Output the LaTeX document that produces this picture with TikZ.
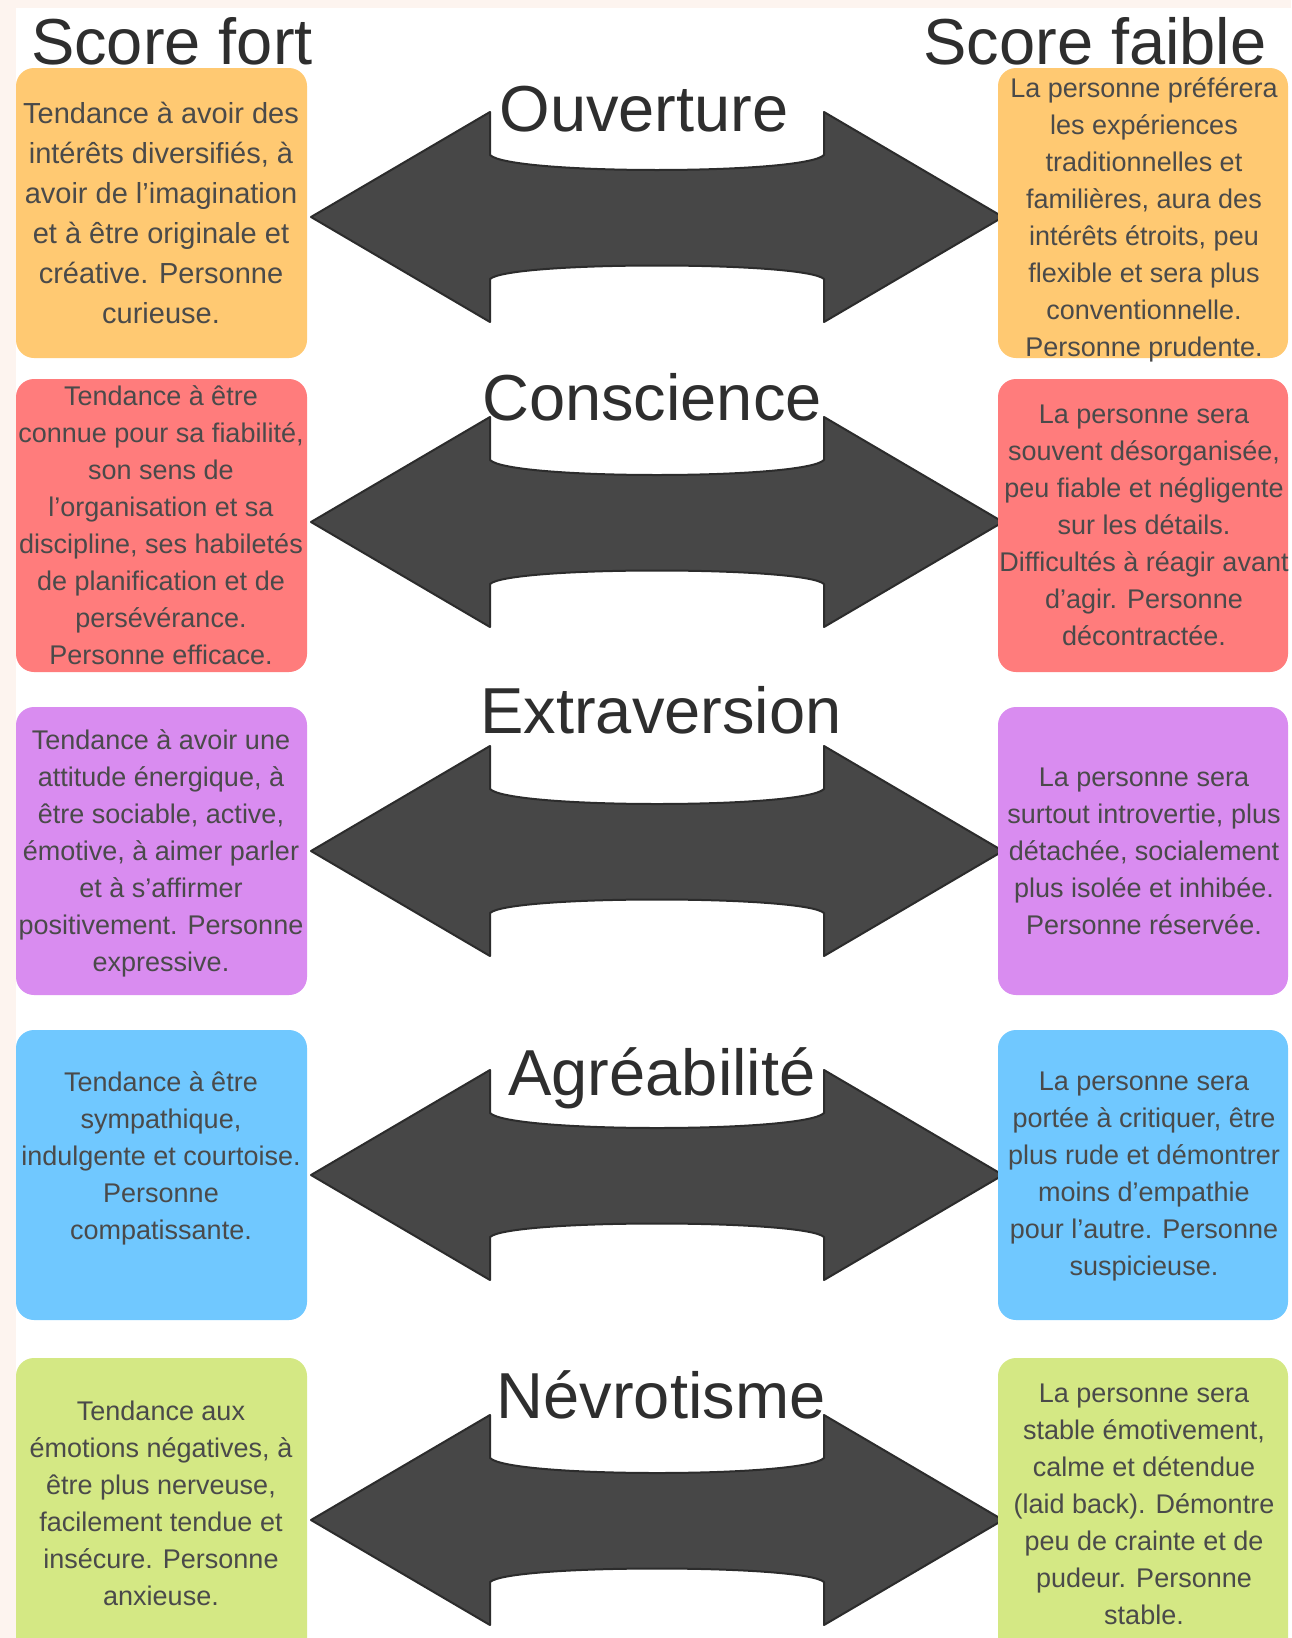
\documentclass[tikz,border=0pt]{standalone}
\usepackage{fontspec}
\setmainfont{Liberation Sans}
\definecolor{fondrose}{HTML}{FDF4EF}
\definecolor{orangeb}{HTML}{FFC972}
\definecolor{rougeb}{HTML}{FF7C7C}
\definecolor{violetb}{HTML}{D98CF0}
\definecolor{bleub}{HTML}{70C8FF}
\definecolor{vertb}{HTML}{D4E884}
\definecolor{textegris}{HTML}{4A4A4A}
\definecolor{titregris}{HTML}{2E2E2E}
\definecolor{flechegris}{HTML}{474747}
\definecolor{flechebord}{HTML}{2C2C2C}
\tikzset{
  trait/.style={align=center,text=textegris,font=\fontsize{27}{37}\selectfont,inner sep=0pt},
  titre/.style={anchor=base,text=titregris,font=\fontsize{65}{78}\selectfont,inner sep=0pt},
  fleche/.style={fill=flechegris,draw=flechebord,line width=2pt,line join=round}
}
\begin{document}
\begin{tikzpicture}[x=1pt,y=-1pt]
  \useasboundingbox (0,0) rectangle (1291,1638);
  %fond
  \fill[fondrose] (0,0) rectangle (1291,1638);
  \fill[white] (16,8) rectangle (1291,1638);
  %fleches
  \foreach \y in {217,522,851,1175,1520}{
    \draw[fleche] (311,\y) -- (490,\y-105) -- (490,\y-62)
      .. controls (510,\y-42) and (804,\y-42) .. (824,\y-62)
      -- (824,\y-105) -- (1003,\y) -- (824,\y+105) -- (824,\y+62)
      .. controls (804,\y+44) and (510,\y+44) .. (490,\y+62)
      -- (490,\y+105) -- cycle;
  }
  %titres
  \node[titre] (sfort) at (172,64) {Score fort};
  \node[titre] (sfaible) at (1095,64) {Score faible};
  \node[titre] (ouv) at (644,131) {Ouverture};
  \node[titre] (cons) at (652,420) {Conscience};
  \node[titre] (extra) at (661,733) {Extraversion};
  \node[titre] (agre) at (662,1095) {Agréabilité};
  \node[titre] (nevro) at (661,1418) {Névrotisme};
  %boites
  %ouverture
  \fill[orangeb,rounded corners=18pt] (16,68) rectangle (307,358);
  \fill[orangeb,rounded corners=18pt] (998,68) rectangle (1288,358);
  \node[trait,font=\fontsize{29}{40}\selectfont] (ouvfort) at (161,213) {Tendance à avoir des\\intérêts diversifiés, à\\avoir de l'imagination\\et à être originale et\\créative. Personne\\curieuse.};
  \node[trait] (ouvfaible) at (1144,220) {La personne préférera\\les expériences\\traditionnelles et\\familières, aura des\\intérêts étroits, peu\\flexible et sera plus\\conventionnelle.\\Personne prudente.};
  %conscience
  \fill[rougeb,rounded corners=18pt] (16,379) rectangle (307,672);
  \fill[rougeb,rounded corners=18pt] (998,379) rectangle (1288,672);
  \node[trait] (consfort) at (161,525) {Tendance à être\\connue pour sa fiabilité,\\son sens de\\l'organisation et sa\\discipline, ses habiletés\\de planification et de\\persévérance.\\Personne efficace.};
  \node[trait] (consfaible) at (1144,525) {La personne sera\\souvent désorganisée,\\peu fiable et négligente\\sur les détails.\\Difficultés à réagir avant\\d'agir. Personne\\décontractée.};
  %extraversion
  \fill[violetb,rounded corners=18pt] (16,707) rectangle (307,995);
  \fill[violetb,rounded corners=18pt] (998,707) rectangle (1288,995);
  \node[trait] (extrafort) at (161,853) {Tendance à avoir une\\attitude énergique, à\\être sociable, active,\\émotive, à aimer parler\\et à s'affirmer\\positivement. Personne\\expressive.};
  \node[trait] (extrafaible) at (1144,851) {La personne sera\\surtout introvertie, plus\\détachée, socialement\\plus isolée et inhibée.\\Personne réservée.};
  %agreabilite
  \fill[bleub,rounded corners=18pt] (16,1030) rectangle (307,1320);
  \fill[bleub,rounded corners=18pt] (998,1030) rectangle (1288,1320);
  \node[trait] (agrefort) at (161,1158) {Tendance à être\\sympathique,\\indulgente et courtoise.\\Personne\\compatissante.};
  \node[trait] (agrefaible) at (1144,1176) {La personne sera\\portée à critiquer, être\\plus rude et démontrer\\moins d'empathie\\pour l'autre. Personne\\suspicieuse.};
  %nevrotisme
  \fill[vertb,rounded corners=18pt] (16,1358) rectangle (307,1660);
  \fill[vertb,rounded corners=18pt] (998,1358) rectangle (1288,1660);
  \node[trait] (nevrofort) at (161,1503) {Tendance aux\\émotions négatives, à\\être plus nerveuse,\\facilement tendue et\\insécure. Personne\\anxieuse.};
  \node[trait] (nevrofaible) at (1144,1504) {La personne sera\\stable émotivement,\\calme et détendue\\(laid back). Démontre\\peu de crainte et de\\pudeur. Personne\\stable.};
\end{tikzpicture}
\end{document}
